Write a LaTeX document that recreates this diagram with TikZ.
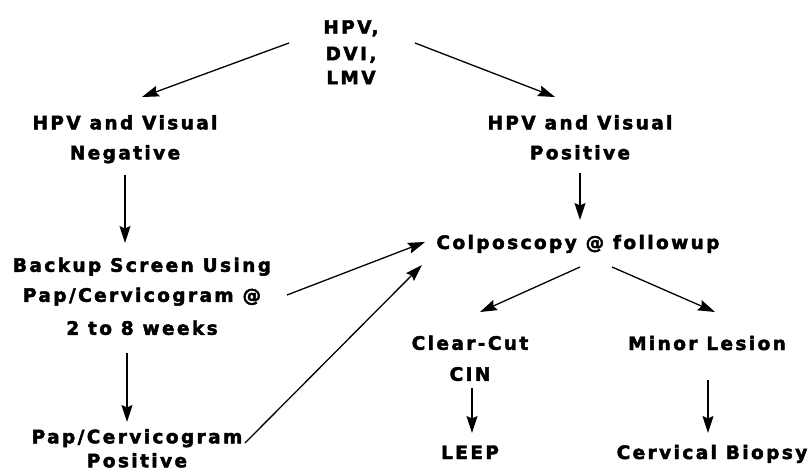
\documentclass[tikz,border=0pt]{standalone}
\usepackage{fontspec}
\setmainfont{DejaVu Sans}[LetterSpace=13, FakeBold=2.5]
\usetikzlibrary{arrows.meta}

\begin{document}
\begin{tikzpicture}[x=1pt, y=-1pt,
    box/.style = {align=center, inner sep=0pt, font=\bfseries\fontsize{18.5}{25}\selectfont,
                  execute at begin node=\strut, execute at end node=\strut},
    arr/.style = {line width=1.3pt, -{Stealth[length=17pt, width=11pt, inset=2.5pt]}}]
    \useasboundingbox (0,0) rectangle (812,474);

    % Boxes
    \node[box] (top)    at (351,56)  {HPV,\\[1.5pt]DVI,\\[-1pt]LMV};
    \node[box] (neg)    at (125,141) {HPV and Visual\\[5pt]Negative};
    \node[box] (pos)    at (580,141) {HPV and Visual\\[5pt]Positive};
    \node[box] (backup) at (142,300) {Backup Screen Using\\[5pt]Pap/Cervicogram @\\[8pt]2 to 8 weeks};
    \node[box] (pappos) at (137,452) {Pap/Cervicogram\\[-1pt]Positive};
    \node[box] (colpo)  at (578,244) {Colposcopy @ followup};
    \node[box] (clear)  at (470,362) {Clear-Cut\\[6pt]CIN};
    \node[box] (minor)  at (707,345) {Minor Lesion};
    \node[box] (leep)   at (470,454) {LEEP};
    \node[box] (biopsy) at (712,454) {Cervical Biopsy};

    % Arrows
    \draw[arr] ([shift={(-62,-13)}]top.center) -- ([shift={(17,-44)}]neg.center);
    \draw[arr] ([shift={(64,-13)}]top.center) -- ([shift={(-25,-44)}]pos.center);
    \draw[arr] ([shift={(0,34)}]neg.center) -- ([shift={(-17,-57)}]backup.center);
    \draw[arr] ([shift={(0,32)}]pos.center) -- ([shift={(2,-24)}]colpo.center);
    \draw[arr] ([shift={(-15,53)}]backup.center) -- ([shift={(-10,-30)}]pappos.center);
    \draw[arr] ([shift={(145,-5)}]backup.center) -- ([shift={(-153,-2)}]colpo.center);
    \draw[arr] ([shift={(108,-9)}]pappos.center) -- ([shift={(-156,21)}]colpo.center);
    \draw[arr] ([shift={(2,23)}]colpo.center) -- ([shift={(10,-50)}]clear.center);
    \draw[arr] ([shift={(34,23)}]colpo.center) -- ([shift={(8,-33)}]minor.center);
    \draw[arr] ([shift={(2,26)}]clear.center) -- ([shift={(2,-21)}]leep.center);
    \draw[arr] ([shift={(1,35)}]minor.center) -- ([shift={(-4,-21)}]biopsy.center);
\end{tikzpicture}
\end{document}
